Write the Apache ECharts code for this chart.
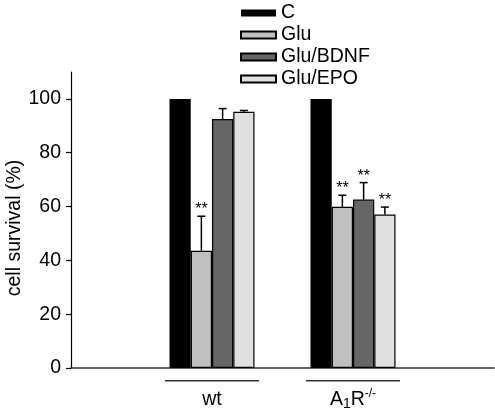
<!DOCTYPE html>
<html>
<head>
<meta charset="utf-8">
<script src="https://cdn.jsdelivr.net/npm/echarts@6/dist/echarts.min.js"></script>
<style>html,body{margin:0;padding:0;background:#fff;}#c{width:495px;height:418px;}</style>
</head>
<body>
<div id="c"></div>
<script>
// ---- data ----
const categories = ['', 'wt', 'A1R-/-', ''];
const seriesNames = ['C', 'Glu', 'Glu/BDNF', 'Glu/EPO'];
const valuesC    = [100, 100];
const valuesGlu  = [43.6, 59.9];
const valuesBDNF = [92.5, 62.6];
const valuesEPO  = [95.2, 57.0];
const errC    = [0, 0];
const errGlu  = [12.8, 4.3];
const errBDNF = [3.9, 6.3];
const errEPO  = [0.5, 2.8];
const sigC    = [false, false];
const sigGlu  = [true, true];
const sigBDNF = [false, true];
const sigEPO  = [false, true];
const yTicks = [0, 20, 40, 60, 80, 100];

// ---- build ----
const allValues = [valuesC, valuesGlu, valuesBDNF, valuesEPO];
const allErr = [errC, errGlu, errBDNF, errEPO];
const allSig = [sigC, sigGlu, sigBDNF, sigEPO];
const colors = ['#000000', '#c0c0c0', '#666666', '#e0e0e0'];
const BW = 21.25;

function padData(arr) { return ['-'].concat(arr).concat(['-']); }

const barSeries = seriesNames.map((n, i) => ({
  name: n,
  type: 'bar',
  data: padData(allValues[i]),
  barWidth: BW,
  barGap: '0%',
  itemStyle: { color: colors[i], borderColor: '#000', borderWidth: i === 0 ? 0 : 1.2 },
  emphasis: { disabled: true },
  z: 2
}));

const errData = [];
seriesNames.forEach((n, s) => {
  allValues[s].forEach((v, g) => {
    errData.push([g + 1, v, allErr[s][g], allSig[s][g] ? 1 : 0, s]);
  });
});

const errSeries = {
  type: 'custom',
  data: errData,
  encode: { x: 0, y: 1 },
  z: 5,
  silent: true,
  renderItem: function (params, api) {
    const cat = api.value(0), v = api.value(1), e = api.value(2), sig = api.value(3), s = api.value(4);
    const base = api.coord([cat, v]);
    const top = api.coord([cat, v + e]);
    const x = base[0] + (s - 1.5) * BW;
    const children = [];
    if (e > 0) {
      children.push({ type: 'line', shape: { x1: x, y1: base[1], x2: x, y2: top[1] }, style: { stroke: '#000', lineWidth: 1.5 } });
      children.push({ type: 'line', shape: { x1: x - 4, y1: top[1], x2: x + 4, y2: top[1] }, style: { stroke: '#000', lineWidth: 1.5 } });
    }
    if (sig) {
      children.push({ type: 'text', style: { text: '**', x: x, y: top[1] - 6.4, align: 'center', verticalAlign: 'middle', fontSize: 16, fontFamily: 'Liberation Sans', fill: '#000' } });
    }
    return { type: 'group', children: children };
  }
};

const chart = echarts.init(document.getElementById('c'), null, { renderer: 'canvas' });
chart.setOption({
  animation: false,
  backgroundColor: '#fff',
  textStyle: { fontFamily: 'Liberation Sans' },
  grid: { left: 71, right: 1, top: 72, bottom: 50, containLabel: false, outerBoundsMode: 'none' },
  legend: {
    data: seriesNames,
    orient: 'vertical',
    left: 240,
    top: 3,
    padding: 0,
    icon: 'rect',
    itemWidth: 35,
    itemHeight: 7,
    itemGap: 2,
    selectedMode: false,
    textStyle: { fontSize: 19.5, color: '#000', lineHeight: 19, fontFamily: 'Liberation Sans' }
  },
  xAxis: {
    type: 'category',
    data: categories,
    boundaryGap: false,
    axisLine: { lineStyle: { color: '#333', width: 1.5 } },
    axisTick: { show: false },
    axisLabel: {
      interval: 0,
      margin: 12,
      formatter: function (val) {
        if (val === 'wt') return '{u| }\n{s| }\n{t|wt}';
        if (val === 'A1R-/-') return '{u| }\n{s| }\n{t|A}{sub|1}{t|R}{sup|-/-}';
        return '';
      },
      rich: {
        u: { width: 94, height: 1.5, lineHeight: 1.5, backgroundColor: '#333', align: 'center', fontSize: 1 },
        s: { lineHeight: 6, height: 6, fontSize: 1, align: 'center' },
        t: { fontSize: 19.5, lineHeight: 24, color: '#000', align: 'center', fontFamily: 'Liberation Sans' },
        sub: { fontSize: 14, lineHeight: 14, verticalAlign: 'bottom', color: '#000', align: 'center', fontFamily: 'Liberation Sans' },
        sup: { fontSize: 12, lineHeight: 14, verticalAlign: 'top', color: '#000', align: 'center', fontFamily: 'Liberation Sans' }
      }
    }
  },
  yAxis: {
    type: 'value',
    min: 0,
    max: 110,
    interval: 20,
    name: 'cell survival (%)',
    nameLocation: 'middle',
    nameGap: 46,
    nameMoveOverlap: false,
    nameTextStyle: { fontSize: 19.5, color: '#000', padding: [0, 16, 0, 0], fontFamily: 'Liberation Sans' },
    splitLine: { show: false },
    axisLine: { show: true, lineStyle: { color: '#000', width: 1.2 } },
    axisTick: { show: true, length: 5, lineStyle: { color: '#000', width: 1.2 }, customValues: yTicks },
    axisLabel: { fontSize: 19.5, color: '#000', margin: 10, customValues: yTicks, fontFamily: 'Liberation Sans' }
  },
  series: barSeries.concat([errSeries])
});
</script>
</body>
</html>
